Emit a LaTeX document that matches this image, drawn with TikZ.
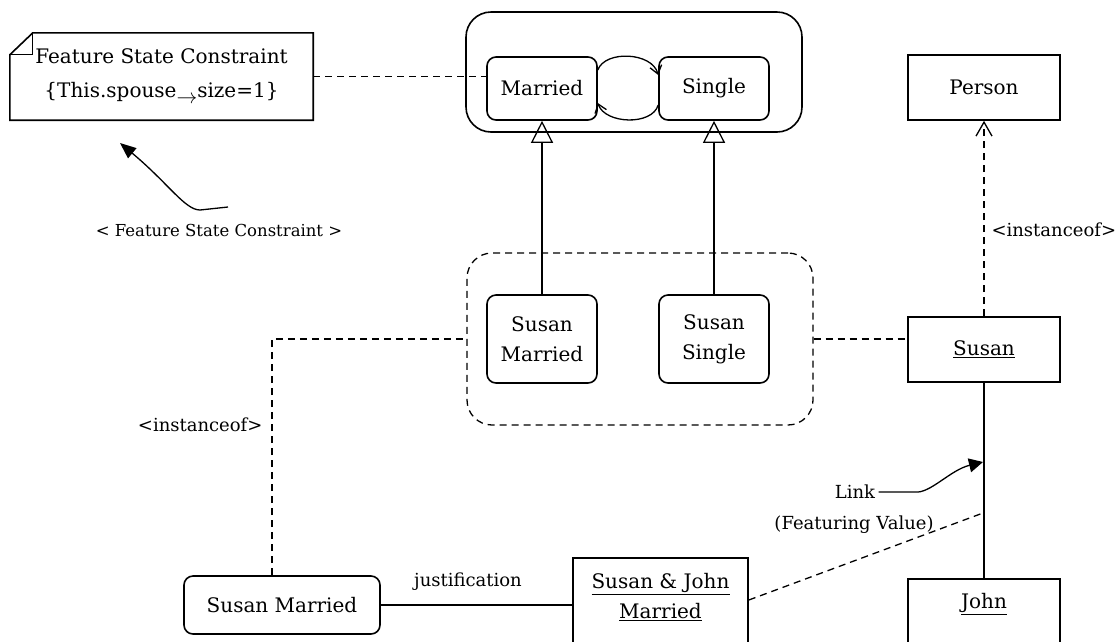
\documentclass[tikz,border=0pt]{standalone}
\usepackage{fontspec}
\setmainfont{DejaVu Serif}
\usetikzlibrary{arrows.meta,positioning}

\begin{document}
\begin{tikzpicture}[x=1pt,y=-1pt,
    every node/.style={font=\fontsize{20}{30}\selectfont},
    objbox/.style={draw,line width=1.6pt,inner sep=0pt},
    statebox/.style={draw,line width=1.6pt,rounded corners=9pt,inner sep=0pt,align=center},
    dashline/.style={line width=1.3pt,dash pattern=on 7pt off 5pt},
    smalltext/.style={font=\fontsize{18}{22}\selectfont},
    barb/.style={line width=1.3pt,-{Straight Barb[length=8pt,width=12pt]}}]
    \useasboundingbox (0,0) rectangle (1118,641);
    \clip (0,0) rectangle (1118,641);
    \node[minimum width=303pt,minimum height=87pt,inner sep=0pt,align=center,font=\fontsize{20}{34}\selectfont] (note) at (161.5,76.5) {Feature State Constraint\\\{This.spouse\raisebox{-6pt}{$\rightarrow$}size=1\}};
    \draw[line width=1.6pt] ([xshift=23pt]note.north west) -- (note.north east) -- (note.south east) -- (note.south west) -- ([yshift=-22pt]note.north west) -- cycle;
    \draw[line width=1pt] ([yshift=-22pt]note.north west) -- ([xshift=23pt,yshift=-22pt]note.north west) -- ([xshift=23pt]note.north west);
    \node[smalltext,font=\fontsize{16.5}{20}\selectfont] (fsclabel) at (219,230) {< Feature State Constraint >};
    \coordinate (fsctail) at (228,207); \coordinate (fsctip) at (120,143);
    \draw[line width=1.3pt,-{Triangle[length=16pt,width=13pt]}] (fsctail) -- (200,210) .. controls (185,210) and (168,183) .. (fsctip);
    \node[draw,line width=1.6pt,rounded corners=25pt,minimum width=336pt,minimum height=120pt] (machine) at (634,72) {};
    \node[statebox,minimum width=110pt,minimum height=63pt] (married) at (542,88.5) {Married};
    \node[statebox,minimum width=110pt,minimum height=63pt] (single) at (714,88.5) {Single};
    \draw[dashline] (note.east) -- (note.east -| married.west);
    \draw[barb] (married.east |- 0,70) .. controls (605,50) and (652,52) .. (single.west |- 0,75);
    \draw[barb] (single.west |- 0,105) .. controls (652,126) and (605,124) .. (married.east |- 0,103);
    \node[draw,dashline,rounded corners=25pt,minimum width=346pt,minimum height=172pt] (group) at (640,339) {};
    \node[statebox,minimum width=110pt,minimum height=88pt] (smarried) at (542,339) {Susan\\Married};
    \node[statebox,minimum width=110pt,minimum height=88pt] (ssingle) at (714,339) {Susan\\Single};
    \draw[line width=1.3pt,-{Triangle[open,length=22pt,width=22pt]}] (smarried.north) -- (married.south);
    \draw[line width=1.3pt,-{Triangle[open,length=22pt,width=22pt]}] (ssingle.north) -- (single.south);
    \node[objbox,minimum width=152pt,minimum height=65pt] (person) at (984,87.5) {Person};
    \node[objbox,minimum width=152pt,minimum height=65pt] (susan) at (984,349.5) {\underline{Susan}};
    \node[objbox,minimum width=152pt,minimum height=100pt,anchor=north] (john) at (984,578) {};
    \node (johntext) at (984,604) {\underline{John}};
    \draw[dashline] (group.east) -- (group.east -| susan.west);
    \draw[dashline,-{Straight Barb[length=14pt,width=16pt]}] (susan.north) -- (person.south);
    \node[smalltext,anchor=west] (inst2) at (988,230) {<instanceof>};
    \draw[line width=1.3pt] (susan.south) -- (john.north);
    \node[statebox,minimum width=196pt,minimum height=58pt] (bmarried) at (282,605) {Susan Married};
    \draw[dashline] ([xshift=-10pt]bmarried.north) |- (group.west);
    \node[smalltext,anchor=east] (inst1) at (266,425) {<instanceof>};
    \node[objbox,minimum width=175pt,minimum height=100pt,anchor=north] (sjm) at (660.5,557) {};
    \node[align=center] (sjmtext) at (660.5,597) {\underline{Susan \& John}\\\underline{Married}};
    \draw[line width=1.3pt] (bmarried.east) -- (bmarried.east -| sjm.west);
    \node[smalltext] (justlabel) at (468,582) {justification};
    \coordinate (linktip) at (983,462); \coordinate (featend) at (983,513);
    \node[smalltext] (linklabel) at (855,492) {Link};
    \node[smalltext] (featlabel) at (854,525) {(Featuring Value)};
    \draw[line width=1.3pt,-{Triangle[length=14pt,width=14pt]}] (linklabel.east) -- ++(36,0) .. controls (930,494) and (950,470) .. (linktip);
    \draw[dashline] ([yshift=-43pt]sjm.north east) -- (featend);
\end{tikzpicture}
\end{document}
